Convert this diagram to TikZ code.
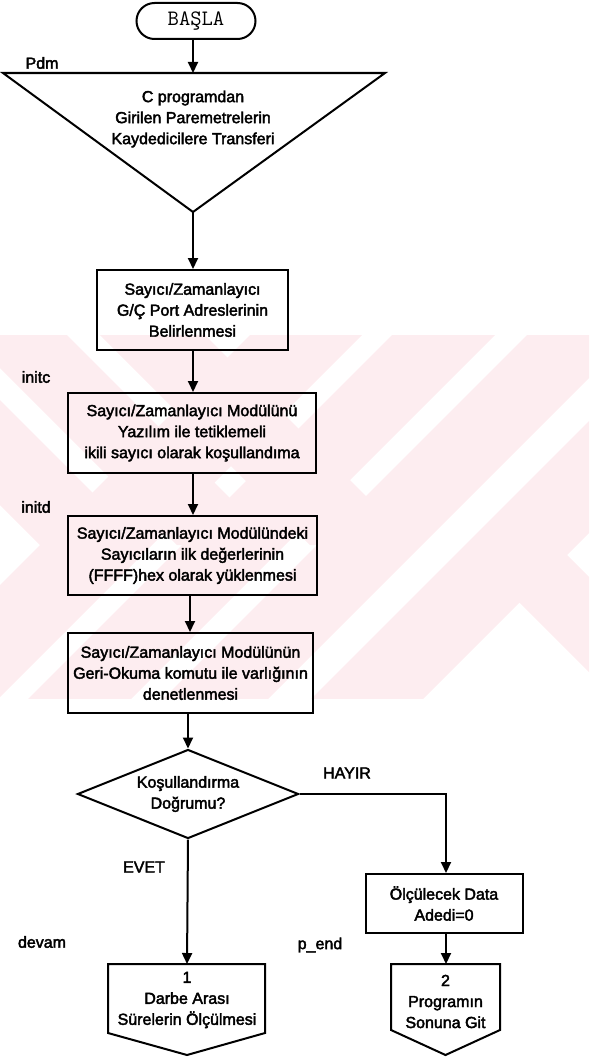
\documentclass[tikz,border=0pt]{standalone}
\usepackage{fontspec}
\newfontfamily\scanfont{Liberation Sans}[FakeBold=2.5]
\usetikzlibrary{arrows.meta,shapes.geometric}
\definecolor{wm}{RGB}{253,237,240}
\tikzset{
  txt/.style={font=\scanfont\fontsize{16}{21}\selectfont, align=center, inner sep=0pt},
  lbl/.style={font=\scanfont\fontsize{16}{21}\selectfont, inner sep=0pt},
  box/.style={txt, draw, line width=2pt},
  startnode/.style={draw, line width=2pt, rounded corners=18pt, minimum width=119pt,
    minimum height=36pt, inner sep=0pt, font=\fontsize{22}{24}\ttfamily},
  decision/.style={txt, draw, diamond, aspect=2.48, line width=2pt,
    minimum width=221pt, minimum height=89pt},
  flow/.style={line width=2pt, -{Triangle[length=11pt,width=10pt]}},
  outline/.style={line width=2pt, line join=miter}
}
\begin{document}
\begin{tikzpicture}[x=1pt,y=-1pt]
\useasboundingbox (0,0) rectangle (589,1057);
% background watermark
\begin{scope}
\clip (0,335) rectangle (589,698);
\fill[wm] (285,300) -- (397,300) -- (-53,750) -- (-165,750) -- cycle;
\fill[wm] (427,300) -- (530,300) -- (80,750) -- (-23,750) -- cycle;
\fill[wm] (562,300) -- (667,300) -- (217,750) -- (112,750) -- cycle;
\fill[wm] (710,300) -- (822,300) -- (372,750) -- (260,750) -- cycle;
\fill[wm] (-205,300) -- (-100,300) -- (145,545) -- (40,545) -- cycle;
\fill[wm] (-68,300) -- (32,300) -- (277,545) -- (177,545) -- cycle;
\fill[wm] (65,300) -- (170,300) -- (415,545) -- (310,545) -- cycle;
\fill[wm] (488.5,571.5) -- (536,524) -- (812,800) -- (717,800) -- cycle;
\end{scope}

% start
\node[startnode] (start) at (196,21) {BAŞLA};

% triangle (manual input)
\coordinate (tL) at (3,73);
\coordinate (tR) at (385,73);
\coordinate (tA) at (193,212);
\coordinate (tTop) at (193,73);
\draw[outline] (tL) -- (tR) -- (tA) -- cycle;
\node[txt] (tritext) at (193,119) {C programdan\\Girilen Paremetrelerin\\Kaydedicilere Transferi};
\draw[flow] (start.south -| tTop) -- (tTop);

% process boxes
\node[box, minimum width=191pt, minimum height=80pt] (b1) at (192.5,310)
  {Sayıcı/Zamanlayıcı\\G/Ç Port Adreslerinin\\Belirlenmesi};
\node[box, minimum width=248pt, minimum height=80pt] (b2) at (192,433)
  {Sayıcı/Zamanlayıcı Modülünü\\Yazılım ile tetiklemeli\\ikili sayıcı olarak koşullandıma};
\node[box, minimum width=249pt, minimum height=79pt] (b3) at (192.5,555.5)
  {Sayıcı/Zamanlayıcı Modülündeki\\Sayıcıların ilk değerlerinin\\(FFFF)hex olarak yüklenmesi};
\node[box, minimum width=245pt, minimum height=80pt] (b4) at (190.5,673)
  {Sayıcı/Zamanlayıcı Modülünün\\Geri-Okuma komutu ile varlığının\\denetlenmesi};

\draw[flow] (tA) -- (tA |- b1.north);
\draw[flow] (b1.south -| tA) -- (tA |- b2.north);
\draw[flow] (b2.south -| tA) -- (tA |- b3.north);
\coordinate (c4) at (190,0);
\draw[flow] (b3.south -| c4) -- (c4 |- b4.north);

% decision
\node[decision] (dec) at (188,794) {Koşullandırma\\Doğrumu?};
\draw[flow] (b4.south -| dec.north) -- (dec.north);

% right branch
\node[box, minimum width=157pt, minimum height=59pt] (b5) at (444,903.5)
  {Ölçülecek Data\\Adedi=0};
\coordinate (hc) at (446,794);
\draw[flow] (dec.east) -- (hc) -- (hc |- b5.north);

% off-page connectors (pentagons)
\draw[outline] (108,964) -- (265,964) -- (265,1033) -- (187,1055) -- (108,1033) -- cycle;
\node[txt] (p1) at (187,1000) {1\\Darbe Arası\\Sürelerin Ölçülmesi};
\coordinate (p1top) at (187,964);
\draw[flow] (dec.south) -- (p1top);

\draw[outline] (391,964) -- (500,964) -- (500,1030) -- (445.5,1055) -- (391,1030) -- cycle;
\node[txt] (p2) at (445.5,1001.5) {2\\Programın\\Sonuna Git};
\coordinate (p2top) at (446,964);
\draw[flow] (b5.south -| p2top) -- (p2top);

% labels
\node[lbl] (lpdm) at (42,63) {Pdm};
\node[lbl] (linitc) at (36,377) {initc};
\node[lbl] (linitd) at (36,507) {initd};
\node[lbl] (lhayir) at (347,773) {HAYIR};
\node[lbl] (levet) at (144,867) {EVET};
\node[lbl] (ldevam) at (42,942) {devam};
\node[lbl] (lpend) at (320,945) {p\_end};
\end{tikzpicture}
\end{document}
